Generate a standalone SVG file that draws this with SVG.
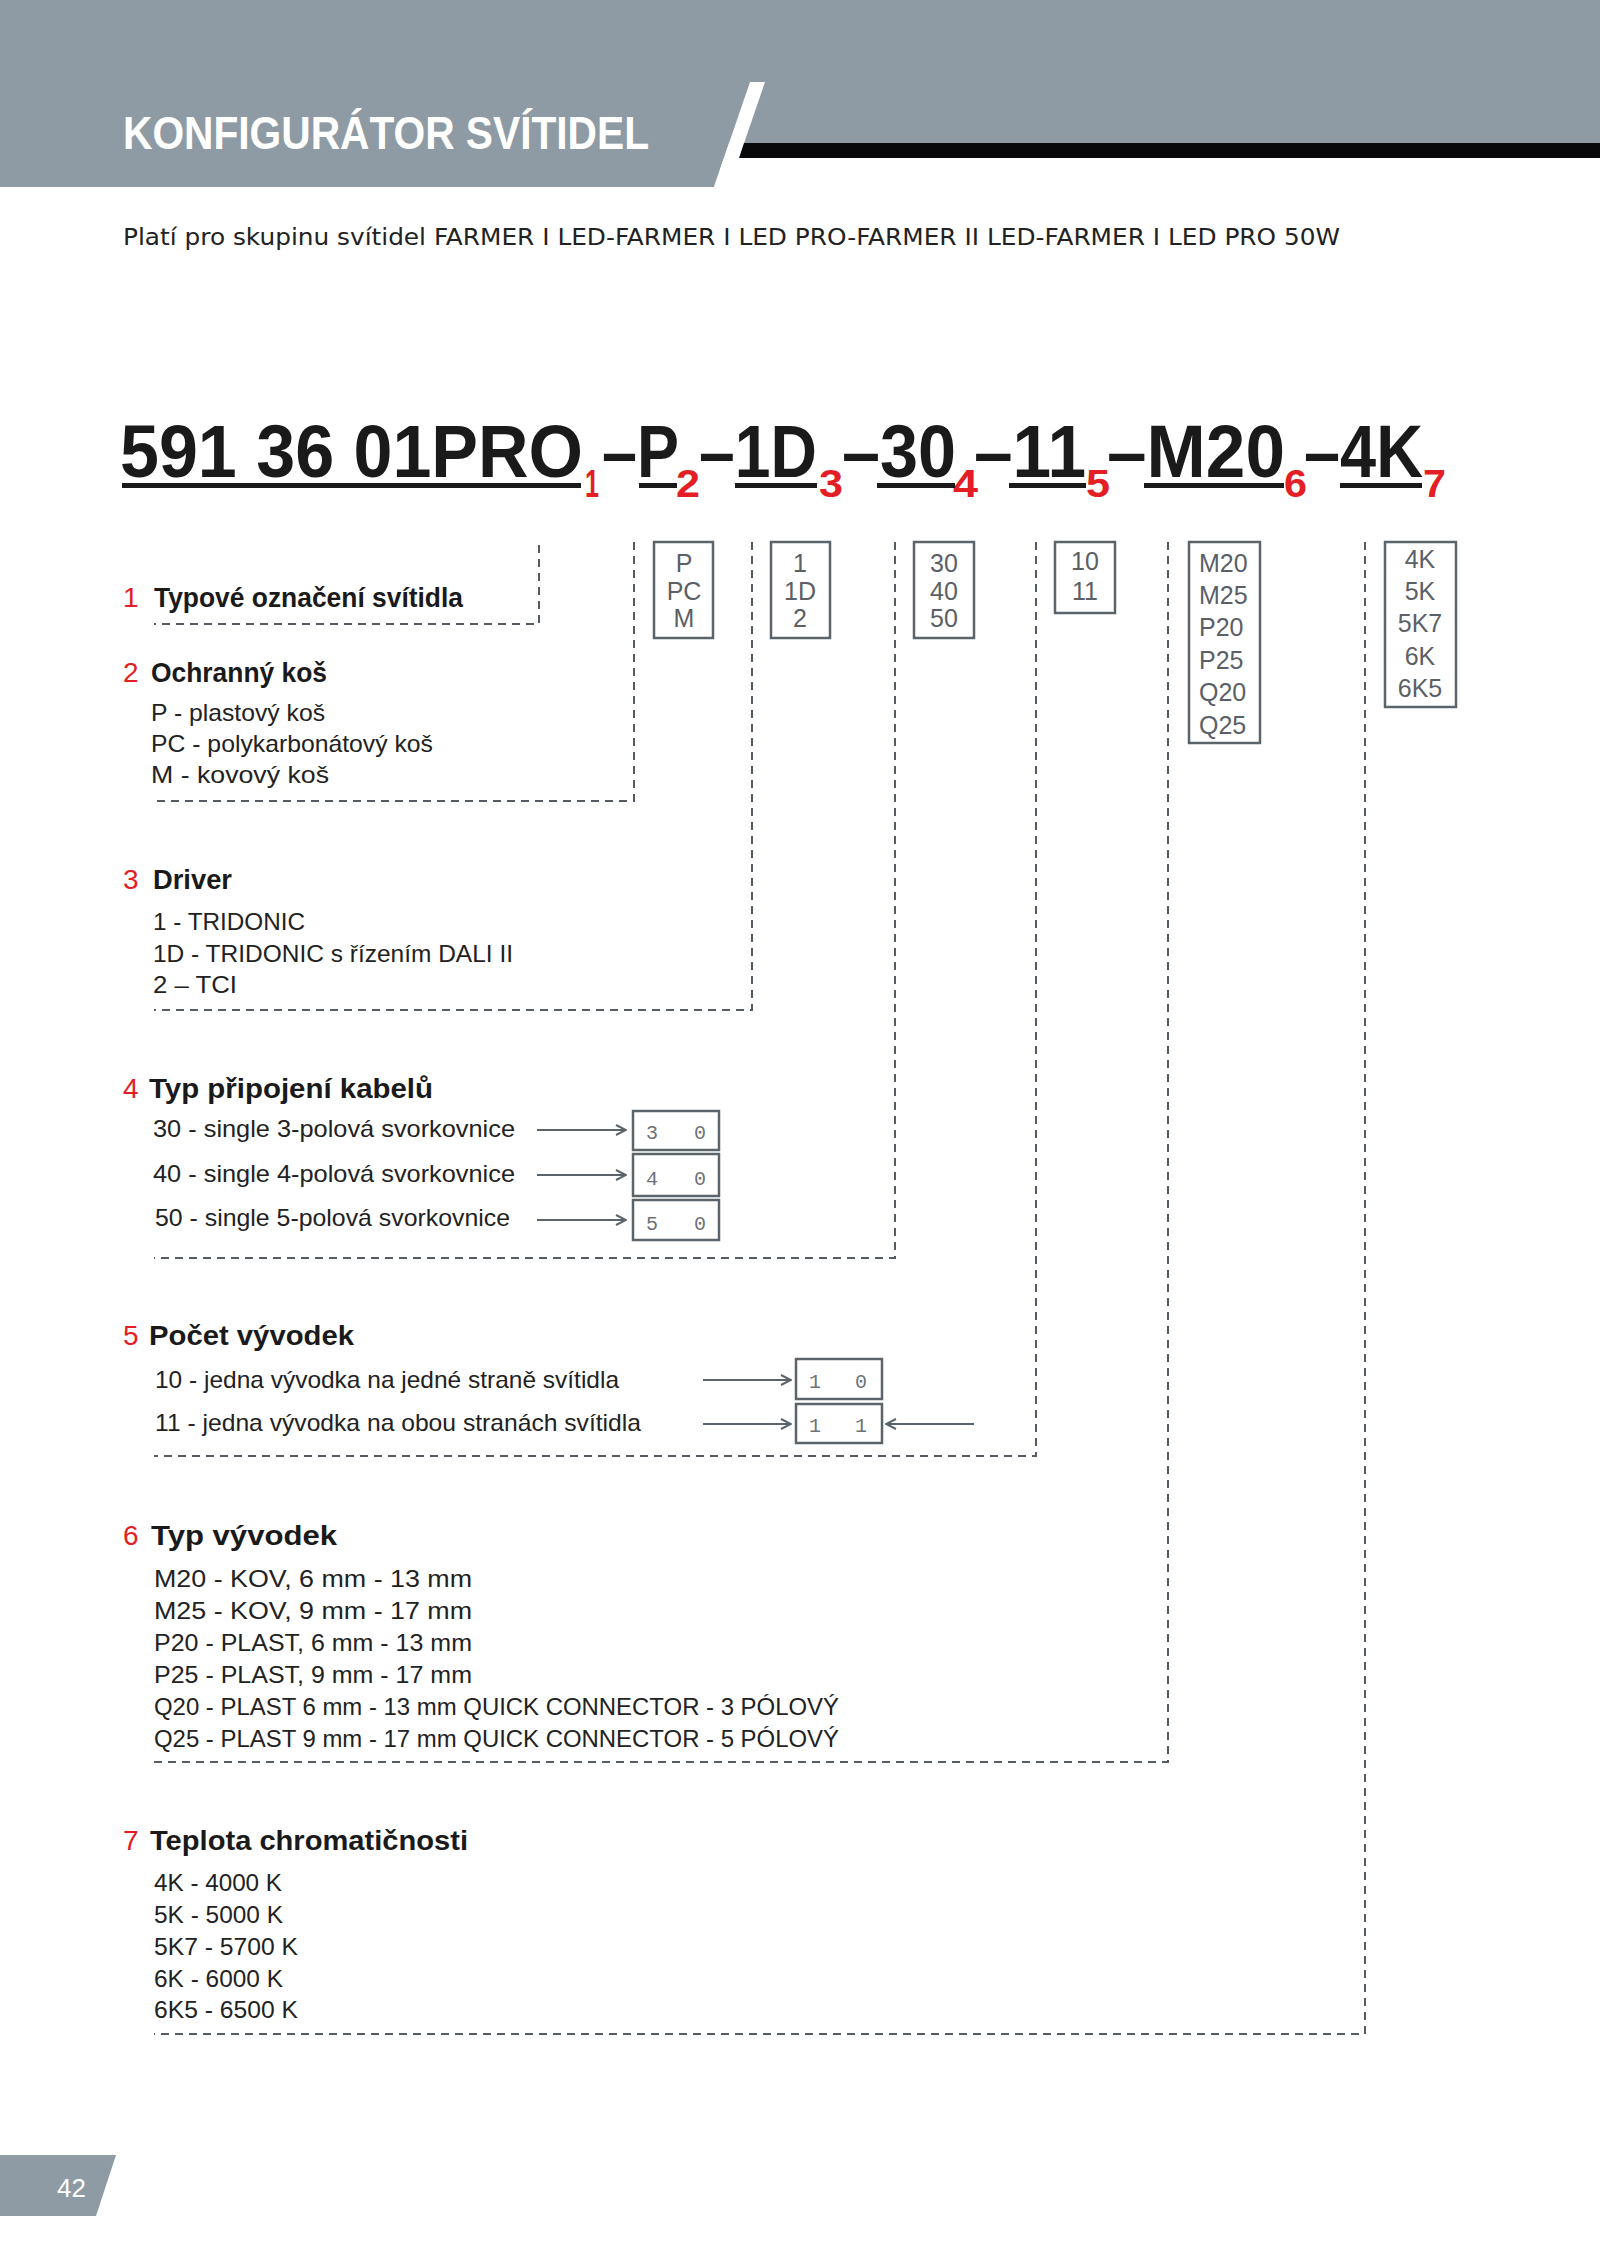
<svg xmlns="http://www.w3.org/2000/svg" width="1600" height="2262" viewBox="0 0 1600 2262">
<style>
.title{font-family:"Liberation Sans",Arial,sans-serif;font-weight:bold;font-size:46px;fill:#fff}
.sub{font-family:"DejaVu Sans","Liberation Sans",sans-serif;font-size:23.5px;fill:#222}
.code{font-family:"Liberation Sans",Arial,sans-serif;font-weight:bold;font-size:75px;fill:#1a1a1a}
.idx{font-family:"Liberation Sans",Arial,sans-serif;font-weight:bold;font-size:38px;fill:#e31e24}
.ul{fill:#1a1a1a}
.num{font-family:"Liberation Sans",Arial,sans-serif;font-size:28px;fill:#e31e24}
.head{font-family:"Liberation Sans",Arial,sans-serif;font-weight:bold;font-size:28px;fill:#1a1a1a}
.item{font-family:"Liberation Sans",Arial,sans-serif;font-size:24px;fill:#222}
.box{fill:none;stroke:#5b636b;stroke-width:2.5}
.bt{font-family:"Liberation Sans",Arial,sans-serif;font-size:25px;fill:#5b6067}
.mono{font-family:"Liberation Mono","Courier New",monospace;font-size:20px;fill:#6e7378;text-anchor:middle}
.dash{fill:none;stroke:#555b62;stroke-width:2;stroke-dasharray:8 6}
.arr{fill:none;stroke:#5b636b;stroke-width:2}
</style>
<defs>
<marker id="ah" viewBox="0 0 12 12" refX="11" refY="6" markerWidth="12" markerHeight="12" markerUnits="userSpaceOnUse" orient="auto">
<path d="M1,1 L11,6 L1,11" fill="none" stroke="#5b636b" stroke-width="2"/>
</marker>
</defs>
<rect width="1600" height="2262" fill="#fff"/>

<g id="header">
<rect x="0" y="0" width="1600" height="143" fill="#8e9ba4"/>
<polygon points="0,0 778,0 714,187 0,187" fill="#8e9ba4"/>
<polygon points="750,82 765,82 729,187 714,187" fill="#fff"/>
<polygon points="744,143 1600,143 1600,158 739,158" fill="#08090b"/>
<text class="title" x="123" y="149" textLength="526" lengthAdjust="spacingAndGlyphs">KONFIGURÁTOR SVÍTIDEL</text>
</g>

<g id="subtitle">
<text class="sub" x="123" y="245" textLength="1217" lengthAdjust="spacingAndGlyphs">Platí pro skupinu svítidel FARMER I LED-FARMER I LED PRO-FARMER II LED-FARMER I LED PRO 50W</text>
</g>

<g id="code">
<text class="code" x="120" y="477" textLength="463" lengthAdjust="spacingAndGlyphs">591 36 01PRO</text>
<text class="idx" x="585" y="497" textLength="14" lengthAdjust="spacingAndGlyphs">1</text>
<text class="code" x="602" y="477" textLength="77" lengthAdjust="spacingAndGlyphs">–P</text>
<text class="idx" x="676" y="497" textLength="24" lengthAdjust="spacingAndGlyphs">2</text>
<text class="code" x="699" y="477" textLength="118" lengthAdjust="spacingAndGlyphs">–1D</text>
<text class="idx" x="819" y="497" textLength="24" lengthAdjust="spacingAndGlyphs">3</text>
<text class="code" x="842" y="477" textLength="114" lengthAdjust="spacingAndGlyphs">–30</text>
<text class="idx" x="953" y="497" textLength="25" lengthAdjust="spacingAndGlyphs">4</text>
<text class="code" x="974" y="477" textLength="112" lengthAdjust="spacingAndGlyphs">–11</text>
<text class="idx" x="1086" y="497" textLength="24" lengthAdjust="spacingAndGlyphs">5</text>
<text class="code" x="1107" y="477" textLength="178" lengthAdjust="spacingAndGlyphs">–M20</text>
<text class="idx" x="1284" y="497" textLength="23" lengthAdjust="spacingAndGlyphs">6</text>
<text class="code" x="1304" y="477" textLength="119" lengthAdjust="spacingAndGlyphs">–4K</text>
<text class="idx" x="1423" y="497" textLength="23" lengthAdjust="spacingAndGlyphs">7</text>
<rect class="ul" x="122" y="483" width="459" height="5"/>
<rect class="ul" x="639" y="483" width="38" height="5"/>
<rect class="ul" x="735" y="483" width="82" height="5"/>
<rect class="ul" x="877" y="483" width="78" height="5"/>
<rect class="ul" x="1009" y="483" width="77" height="5"/>
<rect class="ul" x="1144" y="483" width="140" height="5"/>
<rect class="ul" x="1340" y="483" width="82" height="5"/>
</g>

<g id="box-p">
<rect class="box" x="654" y="542" width="59" height="96"/>
<text class="bt" x="684" y="572" text-anchor="middle">P</text>
<text class="bt" x="684" y="600" text-anchor="middle">PC</text>
<text class="bt" x="684" y="627" text-anchor="middle">M</text>
</g>
<g id="box-driver">
<rect class="box" x="771" y="542" width="59" height="96"/>
<text class="bt" x="800" y="572" text-anchor="middle">1</text>
<text class="bt" x="800" y="600" text-anchor="middle">1D</text>
<text class="bt" x="800" y="627" text-anchor="middle">2</text>
</g>
<g id="box-conn">
<rect class="box" x="914" y="542" width="60" height="96"/>
<text class="bt" x="944" y="572" text-anchor="middle">30</text>
<text class="bt" x="944" y="600" text-anchor="middle">40</text>
<text class="bt" x="944" y="627" text-anchor="middle">50</text>
</g>
<g id="box-count">
<rect class="box" x="1055" y="542" width="60" height="71"/>
<text class="bt" x="1085" y="570" text-anchor="middle">10</text>
<text class="bt" x="1085" y="600" text-anchor="middle">11</text>
</g>
<g id="box-type">
<rect class="box" x="1189" y="542" width="71" height="201"/>
<text class="bt" x="1199" y="572">M20</text>
<text class="bt" x="1199" y="604">M25</text>
<text class="bt" x="1199" y="636">P20</text>
<text class="bt" x="1199" y="669">P25</text>
<text class="bt" x="1199" y="701">Q20</text>
<text class="bt" x="1199" y="734">Q25</text>
</g>
<g id="box-temp">
<rect class="box" x="1385" y="542" width="71" height="165"/>
<text class="bt" x="1420" y="568" text-anchor="middle">4K</text>
<text class="bt" x="1420" y="600" text-anchor="middle">5K</text>
<text class="bt" x="1420" y="632" text-anchor="middle">5K7</text>
<text class="bt" x="1420" y="665" text-anchor="middle">6K</text>
<text class="bt" x="1420" y="697" text-anchor="middle">6K5</text>
</g>

<g id="section1">
<text class="num" x="123" y="607">1</text>
<text class="head" x="154" y="607" textLength="309" lengthAdjust="spacingAndGlyphs">Typové označení svítidla</text>
</g>
<g id="section2">
<text class="num" x="123" y="682">2</text>
<text class="head" x="151" y="682" textLength="176" lengthAdjust="spacingAndGlyphs">Ochranný koš</text>
<text class="item" x="151" y="721" textLength="174" lengthAdjust="spacingAndGlyphs">P - plastový koš</text>
<text class="item" x="151" y="752" textLength="282" lengthAdjust="spacingAndGlyphs">PC - polykarbonátový koš</text>
<text class="item" x="151" y="783" textLength="178" lengthAdjust="spacingAndGlyphs">M - kovový koš</text>
</g>
<g id="section3">
<text class="num" x="123" y="889">3</text>
<text class="head" x="153" y="889" textLength="79" lengthAdjust="spacingAndGlyphs">Driver</text>
<text class="item" x="153" y="930" textLength="152" lengthAdjust="spacingAndGlyphs">1 - TRIDONIC</text>
<text class="item" x="153" y="962" textLength="360" lengthAdjust="spacingAndGlyphs">1D - TRIDONIC s řízením DALI II</text>
<text class="item" x="153" y="993" textLength="84" lengthAdjust="spacingAndGlyphs">2 – TCI</text>
</g>
<g id="section4">
<text class="num" x="123" y="1098">4</text>
<text class="head" x="149" y="1098" textLength="284" lengthAdjust="spacingAndGlyphs">Typ připojení kabelů</text>
<text class="item" x="153" y="1137" textLength="362" lengthAdjust="spacingAndGlyphs">30 - single 3-polová svorkovnice</text>
<text class="item" x="153" y="1182" textLength="362" lengthAdjust="spacingAndGlyphs">40 - single 4-polová svorkovnice</text>
<text class="item" x="155" y="1226" textLength="355" lengthAdjust="spacingAndGlyphs">50 - single 5-polová svorkovnice</text>
</g>
<g id="box-30">
<rect class="box" x="633" y="1111" width="86" height="39"/>
<text class="mono" x="652" y="1139">3</text>
<text class="mono" x="700" y="1139">0</text>
</g>
<g id="box-40">
<rect class="box" x="633" y="1154" width="86" height="42"/>
<text class="mono" x="652" y="1185">4</text>
<text class="mono" x="700" y="1185">0</text>
</g>
<g id="box-50">
<rect class="box" x="633" y="1200" width="86" height="40"/>
<text class="mono" x="652" y="1230">5</text>
<text class="mono" x="700" y="1230">0</text>
</g>
<g id="section5">
<text class="num" x="123" y="1345">5</text>
<text class="head" x="149" y="1345" textLength="205" lengthAdjust="spacingAndGlyphs">Počet vývodek</text>
<text class="item" x="155" y="1388" textLength="464" lengthAdjust="spacingAndGlyphs">10 - jedna vývodka na jedné straně svítidla</text>
<text class="item" x="155" y="1431" textLength="486" lengthAdjust="spacingAndGlyphs">11 - jedna vývodka na obou stranách svítidla</text>
</g>
<g id="box-10">
<rect class="box" x="796" y="1359" width="86" height="40"/>
<text class="mono" x="815" y="1388">1</text>
<text class="mono" x="861" y="1388">0</text>
</g>
<g id="box-11">
<rect class="box" x="796" y="1404" width="86" height="39"/>
<text class="mono" x="815" y="1432">1</text>
<text class="mono" x="861" y="1432">1</text>
</g>
<g id="section6">
<text class="num" x="123" y="1545">6</text>
<text class="head" x="151" y="1545" textLength="186" lengthAdjust="spacingAndGlyphs">Typ  vývodek</text>
<text class="item" x="154" y="1587" textLength="318" lengthAdjust="spacingAndGlyphs">M20 - KOV, 6 mm - 13 mm</text>
<text class="item" x="154" y="1619" textLength="318" lengthAdjust="spacingAndGlyphs">M25 - KOV, 9 mm - 17 mm</text>
<text class="item" x="154" y="1651" textLength="318" lengthAdjust="spacingAndGlyphs">P20 - PLAST, 6 mm - 13 mm</text>
<text class="item" x="154" y="1683" textLength="318" lengthAdjust="spacingAndGlyphs">P25 - PLAST, 9 mm - 17 mm</text>
<text class="item" x="154" y="1715" textLength="685" lengthAdjust="spacingAndGlyphs">Q20 - PLAST 6 mm - 13 mm QUICK CONNECTOR - 3 PÓLOVÝ</text>
<text class="item" x="154" y="1747" textLength="685" lengthAdjust="spacingAndGlyphs">Q25 - PLAST 9 mm - 17 mm QUICK CONNECTOR - 5 PÓLOVÝ</text>
</g>
<g id="section7">
<text class="num" x="123" y="1850">7</text>
<text class="head" x="150" y="1850" textLength="318" lengthAdjust="spacingAndGlyphs">Teplota chromatičnosti</text>
<text class="item" x="154" y="1891" textLength="128" lengthAdjust="spacingAndGlyphs">4K - 4000 K</text>
<text class="item" x="154" y="1923" textLength="129" lengthAdjust="spacingAndGlyphs">5K - 5000 K</text>
<text class="item" x="154" y="1955" textLength="144" lengthAdjust="spacingAndGlyphs">5K7 - 5700 K</text>
<text class="item" x="154" y="1987" textLength="129" lengthAdjust="spacingAndGlyphs">6K - 6000 K</text>
<text class="item" x="154" y="2018" textLength="144" lengthAdjust="spacingAndGlyphs">6K5 - 6500 K</text>
</g>

<g id="connectors">
<polyline class="dash" points="539,545 539,624 154,624"/>
<polyline class="dash" points="634,542 634,801 154,801"/>
<polyline class="dash" points="752,542 752,1010 154,1010"/>
<polyline class="dash" points="895,542 895,1258 154,1258"/>
<polyline class="dash" points="1036,542 1036,1456 154,1456"/>
<polyline class="dash" points="1168,542 1168,1762 154,1762"/>
<polyline class="dash" points="1365,542 1365,2034 154,2034"/>
<line class="arr" x1="537" y1="1130" x2="626" y2="1130" marker-end="url(#ah)"/>
<line class="arr" x1="537" y1="1175" x2="626" y2="1175" marker-end="url(#ah)"/>
<line class="arr" x1="537" y1="1220" x2="626" y2="1220" marker-end="url(#ah)"/>
<line class="arr" x1="703" y1="1380" x2="791" y2="1380" marker-end="url(#ah)"/>
<line class="arr" x1="703" y1="1424" x2="791" y2="1424" marker-end="url(#ah)"/>
<line class="arr" x1="974" y1="1424" x2="886" y2="1424" marker-end="url(#ah)"/>
</g>

<g id="page-number">
<polygon points="0,2155 116,2155 96,2216 0,2216" fill="#8e9ba4"/>
<text x="57" y="2197" font-family="Liberation Sans, Arial, sans-serif" font-size="26" fill="#fff">42</text>
</g>
</svg>
